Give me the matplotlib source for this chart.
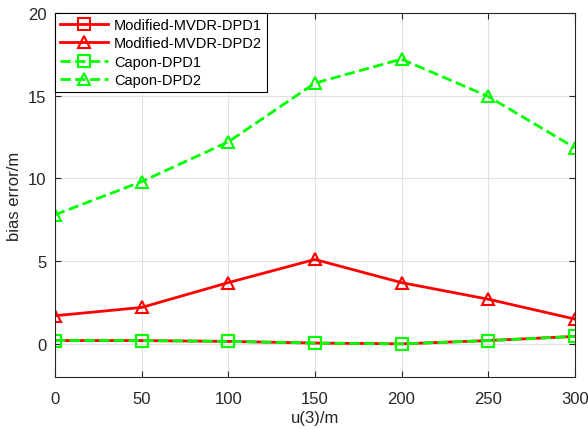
import matplotlib.pyplot as plt

plt.rcParams["font.family"] = ["Liberation Sans", "DejaVu Sans"]

# Data
u3 = [0, 50, 100, 150, 200, 250, 300]
mvdr_dpd1 = [0.2, 0.2, 0.15, 0.05, 0.0, 0.2, 0.45]
mvdr_dpd2 = [1.7, 2.2, 3.7, 5.1, 3.7, 2.7, 1.5]
capon_dpd1 = [0.2, 0.2, 0.15, 0.05, 0.0, 0.2, 0.45]
capon_dpd2 = [7.8, 9.8, 12.2, 15.75, 17.2, 14.95, 11.85]

fig = plt.figure(figsize=(5.88, 4.31), dpi=100)
ax = fig.add_axes([0.0935, 0.123, 0.884, 0.845])

ax.plot(u3, mvdr_dpd1, color="red", lw=2, marker="s", ms=8, mfc="none", mew=1.5,
        label="Modified-MVDR-DPD1")
ax.plot(u3, mvdr_dpd2, color="red", lw=2, marker="^", ms=9, mfc="none", mew=1.5,
        label="Modified-MVDR-DPD2")
ax.plot(u3, capon_dpd1, color=(0, 1, 0), lw=2, ls="--", marker="s", ms=8, mfc="none",
        mew=1.5, label="Capon-DPD1")
ax.plot(u3, capon_dpd2, color=(0, 1, 0), lw=2, ls="--", marker="^", ms=9, mfc="none",
        mew=1.5, label="Capon-DPD2")

ax.set_xlim(0, 300)
ax.set_ylim(-2, 20)
ax.set_xticks(range(0, 301, 50))
ax.set_yticks([0, 5, 10, 15, 20])
ax.grid(True, color="#e0e0e0", lw=0.8)
ax.tick_params(direction="in", top=True, right=True, labelsize=12, colors="#262626",
               length=4)
ax.tick_params(axis="x", pad=10)
ax.tick_params(axis="y", pad=6)
for s in ax.spines.values():
    s.set_color("#262626")
ax.set_xlabel("u(3)/m", fontsize=12, color="#262626", labelpad=3)
ax.set_ylabel("bias error/m", fontsize=12, color="#262626")

leg = ax.legend(loc="upper left", fontsize=10.5, fancybox=False, edgecolor="black",
                framealpha=1, borderaxespad=0.0, handlelength=3.3,
                borderpad=0.35, labelspacing=0.3, handletextpad=0.4)
leg.get_frame().set_linewidth(0.8)

fig.savefig("out.png", dpi=100)
